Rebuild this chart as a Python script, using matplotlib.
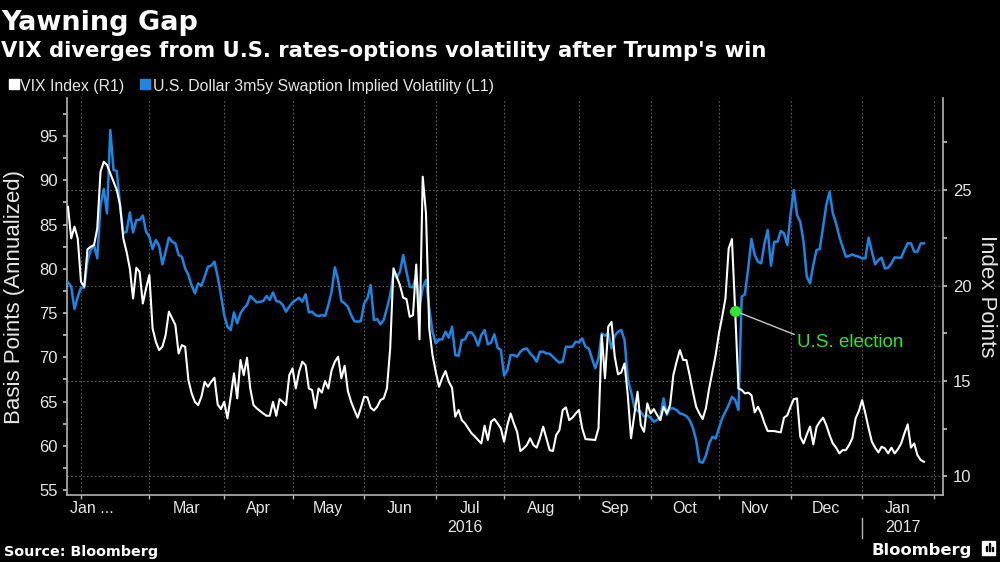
import numpy as np
import pandas as pd
import matplotlib
matplotlib.use('Agg')
import matplotlib.pyplot as plt
from matplotlib.patches import Rectangle
from matplotlib.transforms import blended_transform_factory

# daily closes (business days) from 2016-01-26 to 2017-01-27
start = '2016-01-26'

vix = [
    24.12, 22.47, 23.08, 22.47, 20.2, 19.94, 21.9, 22.03, 22.12, 22.99,
    25.96, 26.48, 26.31, 25.87, 25.43, 25.0, 24.21, 22.47, 21.77, 20.9,
    19.32, 20.93, 20.72, 19.06, 19.85, 20.55, 17.75, 17.06, 16.62, 16.79,
    17.4, 18.63, 18.28, 17.93, 16.44, 16.88, 16.79, 15.05, 14.35, 13.91,
    13.74, 14.18, 14.96, 14.7, 14.96, 15.17, 13.77, 13.53, 13.91, 13.04,
    14.18, 15.4, 14.09, 16.1, 15.31, 16.22, 14.61, 13.74, 13.57, 13.43,
    13.3, 13.18, 13.18, 13.91, 13.18, 14.05, 13.91, 13.74, 15.31, 15.66,
    14.61, 15.48, 16.01, 15.83, 14.61, 14.53, 13.57, 14.61, 14.39, 15.0,
    14.61, 15.57, 16.01, 16.27, 15.14, 15.8, 14.47, 13.91, 13.48, 13.08,
    13.6, 14.18, 14.14, 13.6, 13.46, 13.65, 14.0, 14.09, 14.61, 16.71,
    20.9, 20.46, 20.02, 19.36, 19.29, 18.36, 18.45, 21.1, 17.18, 25.7,
    23.77, 17.75, 16.36, 15.48, 14.7, 15.17, 15.52, 14.96, 14.65, 13.13,
    13.48, 12.95, 12.78, 12.52, 12.26, 12.1, 11.91, 11.73, 12.66, 11.91,
    12.87, 13.01, 12.78, 12.52, 11.82, 12.69, 13.3, 12.78, 12.34, 11.33,
    11.47, 11.65, 12.0, 11.65, 11.51, 12.0, 12.61, 12.0, 11.38, 11.33,
    12.17, 12.43, 13.48, 13.62, 12.95, 13.08, 13.3, 13.48, 12.52, 11.96,
    11.94, 11.93, 11.91, 12.52, 17.4, 15.14, 17.84, 18.1, 16.27, 15.35,
    15.45, 15.92, 14.26, 12.0, 13.22, 14.44, 12.69, 12.34, 13.83, 13.3,
    13.53, 13.22, 12.95, 13.65, 13.3, 13.74, 15.31, 16.01, 16.62, 16.1,
    16.1, 15.31, 14.44, 13.65, 13.3, 13.01, 13.57, 14.61, 15.48, 16.36,
    17.49, 18.36, 19.32, 21.94, 22.43, 18.66, 14.61, 14.53, 14.35, 14.39,
    14.26, 13.36, 13.65, 13.3, 12.78, 12.38, 12.38, 12.38, 12.34, 12.31,
    13.08, 13.2, 13.65, 14.05, 14.09, 12.08, 11.73, 12.2, 12.61, 11.68,
    12.6, 12.87, 13.08, 12.69, 12.17, 11.73, 11.51, 11.21, 11.38, 11.38,
    11.65, 12.0, 13.04, 13.43, 14.0, 13.3, 12.52, 11.82, 11.51, 11.26,
    11.56, 11.47, 11.21, 11.51, 11.21, 11.43, 11.73, 12.26, 12.73, 11.51,
    11.73, 11.12, 10.86, 10.77,
]

swaption = [
    78.46, 77.97, 75.45, 76.84, 77.86, 77.86, 80.9, 82.12, 82.68, 81.17,
    87.2, 89.01, 86.26, 95.68, 91.16, 91.04, 87.2, 84.0, 84.19, 86.37,
    84.11, 85.51, 85.51, 86.0, 84.19, 83.62, 82.23, 83.25, 82.61, 80.5,
    81.93, 83.51, 83.06, 82.87, 81.55, 81.36, 80.04, 79.29, 78.09, 77.22,
    78.35, 78.09, 79.1, 80.23, 80.35, 80.8, 79.1, 77.03, 74.77, 73.45,
    73.08, 75.07, 73.83, 74.96, 75.53, 75.9, 76.92, 76.58, 76.2, 76.28,
    76.35, 76.92, 76.47, 77.33, 76.35, 76.28, 75.9, 75.15, 75.71, 76.2,
    76.47, 76.73, 76.28, 77.11, 75.07, 75.15, 74.77, 74.66, 74.77, 74.66,
    75.9, 77.41, 80.16, 78.73, 76.35, 76.09, 75.71, 74.77, 74.09, 74.02,
    74.09, 76.09, 76.65, 78.16, 74.21, 74.32, 73.72, 74.21, 75.53, 77.03,
    79.48, 78.99, 79.67, 81.55, 79.67, 77.97, 77.9, 79.29, 75.71, 77.86,
    78.73, 75.53, 72.89, 71.57, 72.02, 72.02, 72.89, 72.21, 73.45, 70.25,
    70.18, 71.95, 72.02, 72.81, 72.81, 72.32, 71.31, 72.51, 73.08, 71.46,
    71.65, 72.59, 71.08, 70.82, 67.92, 68.56, 70.25, 70.25, 70.06, 70.63,
    70.93, 70.99, 70.44, 70.06, 69.5, 70.63, 70.63, 70.44, 70.4, 70.06,
    69.69, 69.39, 69.5, 71.19, 71.19, 71.19, 71.76, 71.68, 72.13, 71.19,
    71.0, 69.87, 68.75, 69.87, 72.7, 72.44, 72.7, 71.0, 72.44, 72.89,
    73.08, 71.95, 67.61, 66.11, 64.41, 63.92, 63.85, 63.28, 63.47, 63.17,
    62.72, 62.91, 63.28, 65.36, 63.47, 64.23, 64.23, 64.04, 63.66, 63.55,
    63.36, 62.91, 62.04, 60.65, 58.2, 58.09, 58.88, 60.27, 61.02, 60.83,
    61.97, 63.1, 63.85, 64.6, 65.54, 65.17, 64.04, 76.84, 77.11, 80.04,
    83.36, 81.55, 80.8, 80.61, 82.87, 84.38, 80.35, 83.06, 83.06, 84.26,
    84.0, 82.68, 86.07, 88.9, 86.07, 85.32, 83.06, 79.1, 78.35, 80.42,
    82.12, 82.23, 84.75, 87.2, 88.71, 86.26, 85.13, 83.62, 82.49, 81.36,
    81.44, 81.63, 81.44, 81.36, 81.17, 81.17, 83.51, 81.93, 80.5, 80.99,
    81.25, 80.04, 80.12, 80.61, 81.29, 81.25, 81.25, 82.12, 82.87, 82.87,
    81.93, 81.93, 82.87, 82.87,
]

month_starts = ['2016-02-01', '2016-03-01', '2016-04-01', '2016-05-01',
                '2016-06-01', '2016-07-01', '2016-08-01', '2016-09-01',
                '2016-10-01', '2016-11-01', '2016-12-01', '2017-01-01',
                '2017-02-01']
month_labels = ['Mar', 'Apr', 'May', 'Jun', 'Jul', 'Aug', 'Sep', 'Oct',
                'Nov', 'Dec', 'Jan']
election_day = '2016-11-08'

BLUE = '#1f85e2'
GREEN = '#2ee62e'
TXT = '#e6e6e6'
SPINE = '#b4b4b4'
GRID = '#5c5c5c'

plt.rcParams['font.family'] = ['Liberation Sans', 'DejaVu Sans']

# x axis is a trading-day axis, like the Bloomberg terminal chart
dates = pd.bdate_range(start, periods=len(vix))
x = np.busday_count(start, dates.values.astype('datetime64[D]'))
month_pos = np.busday_count(start, month_starts)
ev = np.busday_count(start, election_day)
ev_val = np.interp(ev, x, vix)

fig = plt.figure(figsize=(10, 5.62), dpi=100, facecolor='black')
ax = fig.add_axes([0.067, 0.1192, 0.876, 0.7064])
ax.set_facecolor('black')
ax2 = ax.twinx()

ax.plot(x, swaption, color=BLUE, lw=1.8, zorder=3)
ax2.plot(x, vix, color='white', lw=1.5, zorder=3)

ax.set_xlim(-0.3, 268.85)
ax.set_ylim(54.44, 99.29)
ax2.set_ylim(9.03, 29.82)

# ticks
ax.set_yticks(np.arange(55, 96, 5))
ax.set_yticks(np.arange(57.5, 99, 5), minor=True)
ax2.set_yticks(np.arange(10, 26, 5))
ax2.set_yticks(np.arange(12.5, 29, 5), minor=True)
ax.set_xticks(month_pos)
ax.set_xticklabels([])

ax.tick_params(axis='y', which='both', direction='out', length=3, width=1.3,
               color=SPINE, labelcolor=TXT, labelsize=12, pad=3.5)
ax2.tick_params(axis='y', which='both', direction='out', length=3, width=1.3,
                color=SPINE, labelcolor=TXT, labelsize=12, pad=4)
ax.tick_params(axis='x', direction='out', length=3, width=1, color=SPINE)

for s in ['top', 'right']:
    ax.spines[s].set_visible(False)
for s in ['top', 'left', 'bottom']:
    ax2.spines[s].set_visible(False)
for sp in [ax.spines['left'], ax.spines['bottom'], ax2.spines['right']]:
    sp.set_color(SPINE)
    sp.set_linewidth(1.2)

# grid: vertical at month starts, horizontal at the right-axis ticks
ax.grid(axis='x', color=GRID, linestyle=(0, (1.5, 2)), lw=0.8)
hgrid = blended_transform_factory(ax.transAxes, ax2.transData)
for v in ax2.get_yticks():
    ax.plot([0, 1], [v, v], transform=hgrid, color=GRID,
            linestyle=(0, (1.5, 2)), lw=0.8, zorder=1)

# month and year labels under the axis
xt = blended_transform_factory(ax.transData, ax.transAxes)
ax.text(0.0034, -0.033, 'Jan ...', transform=ax.transAxes, ha='left',
        va='center', color=TXT, fontsize=11.5)
for i, lab in enumerate(month_labels):
    mid = (month_pos[i + 1] + month_pos[i + 2]) / 2
    ax.text(mid, -0.033, lab, transform=xt, ha='center', va='center',
            color=TXT, fontsize=11.5)
x0, x1 = ax.get_xlim()
jan17 = month_pos[11]
ax.text((x0 + jan17) / 2, -0.083, '2016', transform=xt, ha='center',
        va='center', color=TXT, fontsize=11.5)
ax.text((jan17 + x1) / 2, -0.083, '2017', transform=xt, ha='center',
        va='center', color=TXT, fontsize=11.5)
ax.plot([jan17, jan17], [-0.058, -0.108], transform=xt, color=SPINE,
        lw=1, clip_on=False)

# axis titles
ax.set_ylabel('Basis Points (Annualized)', color=TXT, fontsize=16,
              ha='center', va='center')
ax.yaxis.set_label_coords(-0.0605, 0.5)
ax2.set_ylabel('Index Points', color=TXT, fontsize=16, rotation=270,
               ha='center', va='center')
ax2.yaxis.set_label_coords(1.0502, 0.5)

# election marker
ax2.plot([ev], [ev_val], 'o', color=GREEN, ms=7, zorder=6)
ax2.annotate('U.S. election', xy=(ev, ev_val), xytext=(44.6, -22.5),
             textcoords='offset points', color=GREEN, fontsize=13.5,
             ha='left', va='center',
             arrowprops=dict(arrowstyle='-', color='#c8c8c8', lw=1,
                             shrinkA=0, shrinkB=3, relpos=(0, 0.9)))

# titles
fig.text(0.001, 1 - 30 / 562, 'Yawning Gap', color='white', fontsize=19.5,
         weight='bold', family='DejaVu Sans', va='baseline')
fig.text(0.001, 1 - 57 / 562,
         "VIX diverges from U.S. rates-options volatility after Trump's win",
         color='white', fontsize=15.2, weight='bold', family='DejaVu Sans',
         va='baseline')

# legend
fig.patches.append(Rectangle((0.009, 1 - 89 / 562), 0.0095, 10 / 562,
                             transform=fig.transFigure, color='white'))
fig.text(0.020, 1 - 91 / 562, 'VIX Index (R1)', color=TXT, fontsize=11.4,
         va='baseline')
fig.patches.append(Rectangle((0.140, 1 - 89 / 562), 0.0095, 10 / 562,
                             transform=fig.transFigure, color=BLUE))
fig.text(0.153, 1 - 91 / 562,
         'U.S. Dollar 3m5y Swaption Implied Volatility (L1)', color=TXT,
         fontsize=11.4, va='baseline')

# footer
fig.text(0.004, 1 - 556 / 562, 'Source: Bloomberg', color='white',
         fontsize=10.3, weight='bold', family='DejaVu Sans', va='baseline')
fig.text(0.972, 1 - 554.5 / 562, 'Bloomberg', color='white', fontsize=11.8,
         weight='bold', family='DejaVu Sans', ha='right', va='baseline')
fig.patches.append(Rectangle((0.982, 1 - 555 / 562), 0.013, 14 / 562,
                             transform=fig.transFigure, color='white'))
for bx, bh in [(0.9855, 5), (0.9885, 8), (0.9915, 4)]:
    fig.patches.append(Rectangle((bx, 1 - 551 / 562), 0.0018, bh / 562,
                                 transform=fig.transFigure, color='black'))

fig.savefig('out.png', dpi=100, facecolor='black')
